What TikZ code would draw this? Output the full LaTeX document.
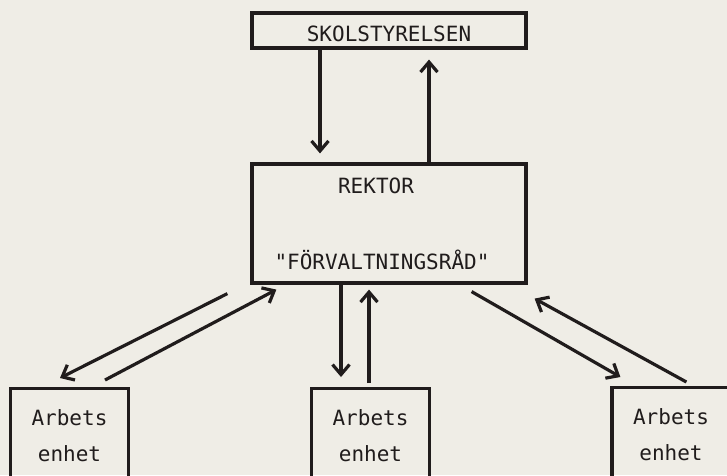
\documentclass[tikz,border=0pt]{standalone}
\usepackage{fontspec}
\newfontfamily\typefont{DejaVu Sans Mono}
\usetikzlibrary{arrows.meta,positioning}
\definecolor{paper}{RGB}{239,237,230}
\definecolor{ink}{RGB}{32,28,28}

\begin{document}
\begin{tikzpicture}[x=1pt,y=-1pt,color=ink,line width=3.2pt,
  >={Straight Barb[length=10pt,width=17pt]},
  box/.style={draw,rectangle,inner sep=0pt,font=\typefont\fontsize{21}{36}\selectfont},
  txt/.style={font=\typefont\fontsize{21}{36}\selectfont,anchor=base,inner sep=0pt},
  unit/.style={box,align=center,minimum width=118pt,minimum height=94pt,anchor=north}]
\clip (0,0) rectangle (727,475);
\fill[paper] (0,0) rectangle (727,475);

\node[box,minimum width=274pt,minimum height=35pt,text height=23pt] (styr) at (389,30.5) {SKOLSTYRELSEN};
\node[box,minimum width=274pt,minimum height=119pt] (rektor) at (389,223.5) {};
\node[txt] (rk) at (376,193) {REKTOR};
\node[txt] (fr) at (382,269) {"FÖRVALTNINGSRÅD"};
\node[unit] (e1) at (69.5,387) {Arbets\\enhet};
\node[unit] (e2) at (370.5,387) {Arbets\\enhet};
\node[unit] (e3) at (671,386) {Arbets\\enhet};

\path[->] ([xshift=-69pt]styr.south) edge ([xshift=-69pt,yshift=9pt]rektor.north)
          ([xshift=40pt]rektor.north) edge ([xshift=40pt,yshift=-10pt]styr.south)
          ([xshift=-23pt,yshift=-9pt]rektor.south west) edge ([xshift=-9.5pt,yshift=9pt]e1.north)
          ([xshift=35.5pt,yshift=7pt]e1.north) edge ([xshift=26pt,yshift=-5pt]rektor.south west)
          ([xshift=-48pt]rektor.south) edge ([xshift=-29.5pt,yshift=10pt]e2.north)
          ([xshift=-1.5pt,yshift=4pt]e2.north) edge ([xshift=-20pt,yshift=-5pt]rektor.south)
          ([xshift=-56pt,yshift=-7pt]rektor.south east) edge ([xshift=10pt,yshift=9pt]e3.north west)
          ([xshift=76pt,yshift=4pt]e3.north west) edge ([xshift=7pt,yshift=-14pt]rektor.south east);
\end{tikzpicture}
\end{document}
